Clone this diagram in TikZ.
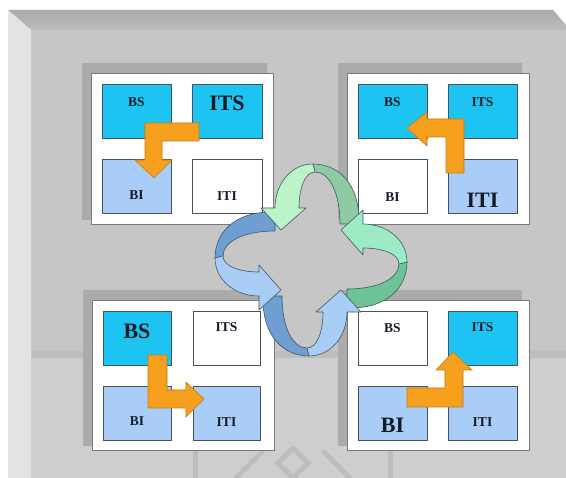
\documentclass[tikz,border=0pt]{standalone}
\usepackage{fontspec}
\setmainfont{Liberation Serif}
\definecolor{cyanbox}{HTML}{1DC4F1}
\definecolor{lightbox}{HTML}{A9CDF6}
\definecolor{cellline}{HTML}{4A5262}
\definecolor{txt}{HTML}{141A28}
\definecolor{orng}{HTML}{F6A01E}
\definecolor{orngd}{HTML}{C47A14}
\definecolor{face}{HTML}{C6C6C6}
\definecolor{facelow}{HTML}{CECECE}
\definecolor{faceband}{HTML}{BEBEBE}
\definecolor{bevtop}{HTML}{A9A9A9}
\definecolor{bevtopl}{HTML}{BDBDBD}
\definecolor{bevleft}{HTML}{E3E3E3}
\definecolor{framegray}{HTML}{ABABAB}
\definecolor{panelline}{HTML}{7A7A7A}
\definecolor{wmark}{HTML}{BDBDBD}
\definecolor{loopline}{HTML}{3E5A62}
\definecolor{gHead}{HTML}{BDF3C8}
\definecolor{gTail}{HTML}{8ECBA2}
\definecolor{mHead}{HTML}{9DEBC4}
\definecolor{mTail}{HTML}{6CC496}
\definecolor{bTail}{HTML}{6E9ED2}
\definecolor{bHead}{HTML}{A9CDF5}
\tikzset{
  cell/.style={draw=cellline, line width=0.8pt, minimum width=69pt, minimum height=54pt, inner sep=0pt, anchor=north west},
  lbl/.style={font=\fontsize{13.5}{14}\selectfont\bfseries, text=txt, inner sep=0pt},
  biglbl/.style={font=\fontsize{22}{22}\selectfont\bfseries, text=txt, inner sep=0pt},
  panel/.style={draw=panelline, fill=white, line width=0.9pt, minimum width=182pt, minimum height=151pt, inner sep=0pt, anchor=north west},
  orarrow/.style={fill=orng, draw=orngd, line width=0.6pt, line join=miter},
  loopedge/.style={draw=loopline, line width=0.6pt, line join=round},
  wm/.style={draw=wmark, line width=5pt, line cap=round}
}
\newcommand\LoopTail[2]{%
  \begin{scope}[shift={(311,260)}, rotate=#1]
    \filldraw[loopedge, fill=#2] (2,-96) .. controls (26,-96) and (49,-78) .. (48,-36)
      -- (29,-36) .. controls (29,-68) and (18,-88) .. (4,-88) -- cycle;
  \end{scope}}
\newcommand\LoopHead[2]{%
  \begin{scope}[shift={(311,260)}, rotate=#1]
    \filldraw[loopedge, fill=#2] (2,-96) .. controls (-20,-96) and (-36,-76) .. (-36,-52)
      -- (-50,-52) -- (-30,-30) -- (-5,-52) -- (-12,-52)
      .. controls (-12,-72) and (-6,-88) .. (4,-88) -- cycle;
  \end{scope}}
\begin{document}
\begin{tikzpicture}[x=1pt,y=-1pt]
\useasboundingbox (0,0) rectangle (566,478);
\fill[white] (0,0) rectangle (566,478);
% panel background with bevels
\fill[face] (31,30) rectangle (566,478);
\fill[facelow] (31,358) rectangle (566,478);
\fill[faceband] (31,351) rectangle (566,358);
\shade[top color=bevtop, bottom color=bevtopl] (8,10) -- (553,10) -- (566,25) -- (566,30) -- (31,30) -- cycle;
\fill[bevleft] (8,10) -- (31,30) -- (31,478) -- (8,478) -- cycle;
% faint watermark strokes
\draw[wm] (195,452) -- (195,478);
\draw[wm] (390,452) -- (390,478);
\draw[wm] (236,478) -- (262,452);
\draw[wm] (350,478) -- (324,452);
\draw[wm] (293,448) -- (308,463) -- (293,478);
\draw[wm] (293,448) -- (278,463) -- (293,478);
% panel frames
\fill[framegray] (82,63) rectangle (267,220);
\fill[framegray] (338,63) rectangle (522,220);
\fill[framegray] (83,290) rectangle (267,446);
\fill[framegray] (338,290) rectangle (522,446);
% panels
\node[panel] (tl) at (91,73) {};
\node[panel] (tr) at (347,73) {};
\node[panel, minimum height=150pt] (bl) at (92,300) {};
\node[panel, minimum height=150pt] (br) at (347,300) {};
% top-left cells
\node[cell, fill=cyanbox] (tlBS) at (102,84) {};
\node[cell, fill=cyanbox, minimum width=70pt] (tlITS) at (192,84) {};
\node[cell, fill=lightbox] (tlBI) at (102,159) {};
\node[cell, fill=white, minimum width=70pt] (tlITI) at (192,159) {};
% top-right cells
\node[cell, fill=cyanbox] (trBS) at (358,84) {};
\node[cell, fill=cyanbox] (trITS) at (448,84) {};
\node[cell, fill=white] (trBI) at (358,159) {};
\node[cell, fill=lightbox] (trITI) at (448,159) {};
% bottom-left cells
\node[cell, fill=cyanbox, minimum width=68pt] (blBS) at (103,311) {};
\node[cell, fill=white, minimum width=67pt] (blITS) at (193,311) {};
\node[cell, fill=lightbox, minimum width=68pt] (blBI) at (103,386) {};
\node[cell, fill=lightbox, minimum width=67pt] (blITI) at (193,386) {};
% bottom-right cells
\node[cell, fill=white] (brBS) at (358,311) {};
\node[cell, fill=cyanbox] (brITS) at (448,311) {};
\node[cell, fill=lightbox] (brBI) at (358,386) {};
\node[cell, fill=lightbox] (brITI) at (448,386) {};
% labels
\node[lbl] (tlBSt) at (136.5,102) {BS};
\node[biglbl] (tlITSt) at (227,103) {ITS};
\node[lbl] (tlBIt) at (136.5,195) {BI};
\node[lbl] (tlITIt) at (227,196) {ITI};
\node[lbl] (trBSt) at (392.5,102) {BS};
\node[lbl] (trITSt) at (482.5,102) {ITS};
\node[lbl] (trBIt) at (392.5,197) {BI};
\node[biglbl] (trITIt) at (482.5,200) {ITI};
\node[biglbl] (blBSt) at (137,331) {BS};
\node[lbl] (blITSt) at (226.5,327) {ITS};
\node[lbl] (blBIt) at (137,421) {BI};
\node[lbl] (blITIt) at (226.5,422) {ITI};
\node[lbl] (brBSt) at (392.5,328) {BS};
\node[lbl] (brITSt) at (482.5,327) {ITS};
\node[biglbl] (brBIt) at (392.5,425) {BI};
\node[lbl] (brITIt) at (482.5,422) {ITI};
% orange arrows
\filldraw[orarrow] (199,123) -- (199,141) -- (162,141) -- (162,160) -- (172,160) -- (154,178)
  -- (135,160) -- (145,160) -- (145,123) -- cycle;
\filldraw[orarrow] (446,173) -- (464,173) -- (464,119) -- (427,119) -- (427,112) -- (407,128)
  -- (427,146) -- (427,137) -- (446,137) -- cycle;
\filldraw[orarrow] (148,355) -- (167,355) -- (167,390) -- (186,390) -- (186,382) -- (204,399)
  -- (186,417) -- (186,408) -- (148,408) -- cycle;
\filldraw[orarrow] (407,388) -- (445,388) -- (445,370) -- (436,370) -- (453,352) -- (472,370)
  -- (463,370) -- (463,407) -- (407,407) -- cycle;
% central cycle of four loops
\LoopTail{0}{gTail}
\LoopTail{90}{bTail}
\LoopTail{180}{bTail}
\LoopTail{-90}{mTail}
\LoopHead{0}{gHead}
\LoopHead{90}{bHead}
\LoopHead{180}{bHead}
\LoopHead{-90}{mHead}
\end{tikzpicture}
\end{document}
